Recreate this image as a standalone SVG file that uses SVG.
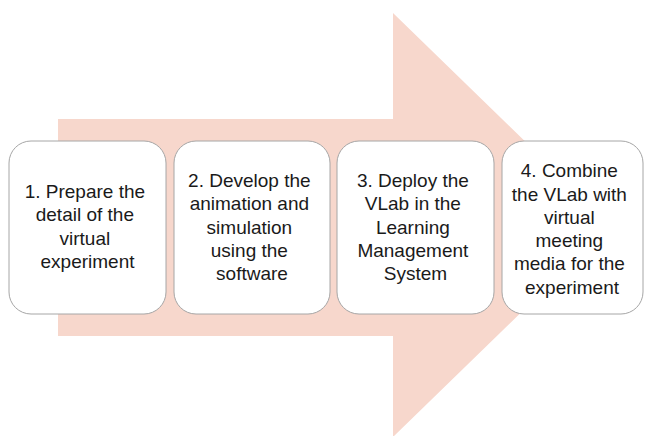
<svg xmlns="http://www.w3.org/2000/svg" width="646" height="436" viewBox="0 0 646 436">
  <style>
    .step { fill: #ffffff; stroke: #a6a6a6; stroke-width: 1; }
    .label { font-family: "Liberation Sans", Arial, sans-serif; font-size: 19px; fill: #1a1a1a; text-anchor: middle; }
  </style>
  <rect width="646" height="436" fill="#ffffff"/>
  <!-- background process arrow -->
  <g id="connectors">
    <polygon points="58,119 393,119 393,13 611,225 393,437 393,336 58,336" fill="#f7d7cc"/>
  </g>
  <g id="step1">
    <rect class="step" x="9" y="141" width="157" height="173" rx="22"/>
    <text class="label">
      <tspan x="87.5" y="198">1. Prepare the</tspan>
      <tspan x="87.5" y="221.3">detail of the</tspan>
      <tspan x="87.5" y="244.6">virtual</tspan>
      <tspan x="87.5" y="267.9">experiment</tspan>
    </text>
  </g>
  <g id="step2">
    <rect class="step" x="174" y="141" width="156" height="173" rx="22"/>
    <text class="label">
      <tspan x="252" y="187">2. Develop the</tspan>
      <tspan x="252" y="210.3">animation and</tspan>
      <tspan x="252" y="233.6">simulation</tspan>
      <tspan x="252" y="256.9">using the</tspan>
      <tspan x="252" y="280.2">software</tspan>
    </text>
  </g>
  <g id="step3">
    <rect class="step" x="337" y="141" width="157" height="173" rx="22"/>
    <text class="label">
      <tspan x="415.5" y="187">3. Deploy the</tspan>
      <tspan x="415.5" y="210.3">VLab in the</tspan>
      <tspan x="415.5" y="233.6">Learning</tspan>
      <tspan x="415.5" y="256.9">Management</tspan>
      <tspan x="415.5" y="280.2">System</tspan>
    </text>
  </g>
  <g id="step4">
    <rect class="step" x="502" y="141" width="141" height="173" rx="22"/>
    <text class="label">
      <tspan x="572" y="177.3">4. Combine</tspan>
      <tspan x="572" y="200.5">the VLab with</tspan>
      <tspan x="572" y="223.8">virtual</tspan>
      <tspan x="572" y="247">meeting</tspan>
      <tspan x="572" y="270.3">media for the</tspan>
      <tspan x="572" y="293.6">experiment</tspan>
    </text>
  </g>
</svg>
